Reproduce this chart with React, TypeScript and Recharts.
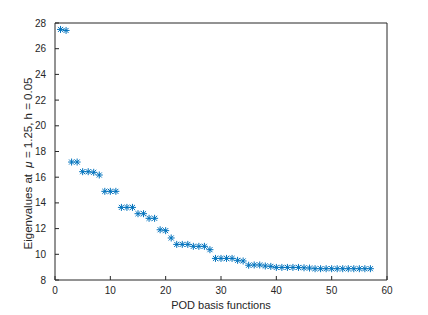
import { ScatterChart, Scatter, XAxis, YAxis } from "recharts";

// eigenvalue index 1..57
const basisIndex = [
  1, 2, 3, 4, 5, 6, 7, 8, 9, 10, 11, 12, 13, 14, 15, 16, 17, 18, 19, 20,
  21, 22, 23, 24, 25, 26, 27, 28, 29, 30, 31, 32, 33, 34, 35, 36, 37, 38, 39, 40,
  41, 42, 43, 44, 45, 46, 47, 48, 49, 50, 51, 52, 53, 54, 55, 56, 57,
];

const eigenvalues = [
  27.5, 27.42, 17.18, 17.18, 16.43, 16.43, 16.38, 16.17, 14.9, 14.9,
  14.9, 13.65, 13.65, 13.65, 13.16, 13.16, 12.8, 12.8, 11.91, 11.84,
  11.27, 10.77, 10.77, 10.77, 10.62, 10.62, 10.62, 10.36, 9.68, 9.68,
  9.68, 9.68, 9.53, 9.48, 9.15, 9.17, 9.17, 9.09, 9.06, 8.98,
  8.98, 8.98, 8.98, 8.98, 8.95, 8.93, 8.88, 8.88, 8.88, 8.88,
  8.88, 8.88, 8.88, 8.88, 8.88, 8.88, 8.88,
];

const xTicks = [0, 10, 20, 30, 40, 50, 60];
const yTicks = [8, 10, 12, 14, 16, 18, 20, 22, 24, 26, 28];

const data = basisIndex.map((n, i) => ({ n, ev: eigenvalues[i] }));

const AXIS = "#262626";
const BLUE = "#0072BD";
const FONT = "'Liberation Sans', Arial, Helvetica, sans-serif";

// matlab '*' marker
const Star = (props: any) => {
  const { cx, cy } = props;
  if (cx == null || cy == null) return null;
  const r = 3.5;
  const d = r * 0.72;
  return (
    <g stroke={BLUE} strokeWidth={1}>
      <line x1={cx - r} y1={cy} x2={cx + r} y2={cy} />
      <line x1={cx} y1={cy - r} x2={cx} y2={cy + r} />
      <line x1={cx - d} y1={cy - d} x2={cx + d} y2={cy + d} />
      <line x1={cx - d} y1={cy + d} x2={cx + d} y2={cy - d} />
    </g>
  );
};

// label sits a bit below the axis centre, like the matlab output
const YLabel = (props: any) => {
  const vb = props.viewBox || {};
  const bx = 32;
  const cy = vb.y + vb.height / 2 + 12;
  return (
    <text
      x={bx}
      y={cy}
      transform={`rotate(-90 ${bx} ${cy})`}
      textAnchor="middle"
      fontSize={11.5}
      fontFamily={FONT}
      fill={AXIS}
    >
      Eigenvalues at{"\u00a0\u00a0"}
      <tspan fontStyle="italic">μ</tspan> = 1.25, h = 0.05
    </text>
  );
};

export default function App() {
  return (
    <div style={{ position: "absolute", left: 0, top: 0, background: "#fff" }}>
      <ScatterChart
        width={428}
        height={315}
        margin={{ top: 22, right: 40, bottom: 0, left: 0 }}
      >
        <XAxis
          xAxisId="b"
          type="number"
          dataKey="n"
          domain={[0, 60]}
          ticks={xTicks}
          height={35}
          stroke={AXIS}
          tickSize={-4}
          tickMargin={11}
          tick={{ fill: AXIS, fontSize: 10, fontFamily: FONT }}
          label={{
            value: "POD basis functions",
            position: "insideBottom",
            offset: 6,
            fill: AXIS,
            fontSize: 11,
            fontFamily: FONT,
          }}
        />
        <XAxis
          xAxisId="t"
          orientation="top"
          type="number"
          dataKey="n"
          domain={[0, 60]}
          ticks={xTicks}
          height={1}
          stroke={AXIS}
          tickSize={-4}
          tick={false}
        />
        <YAxis
          yAxisId="l"
          type="number"
          dataKey="ev"
          domain={[8, 28]}
          ticks={yTicks}
          width={55}
          stroke={AXIS}
          tickSize={-4}
          tickMargin={13}
          tick={{ fill: AXIS, fontSize: 10, fontFamily: FONT }}
          label={{ content: YLabel }}
        />
        <YAxis
          yAxisId="r"
          orientation="right"
          type="number"
          dataKey="ev"
          domain={[8, 28]}
          ticks={yTicks}
          width={1}
          stroke={AXIS}
          tickSize={-4}
          tick={false}
        />
        <Scatter
          xAxisId="b"
          yAxisId="l"
          data={data}
          shape={<Star />}
          isAnimationActive={false}
        />
      </ScatterChart>
    </div>
  );
}
